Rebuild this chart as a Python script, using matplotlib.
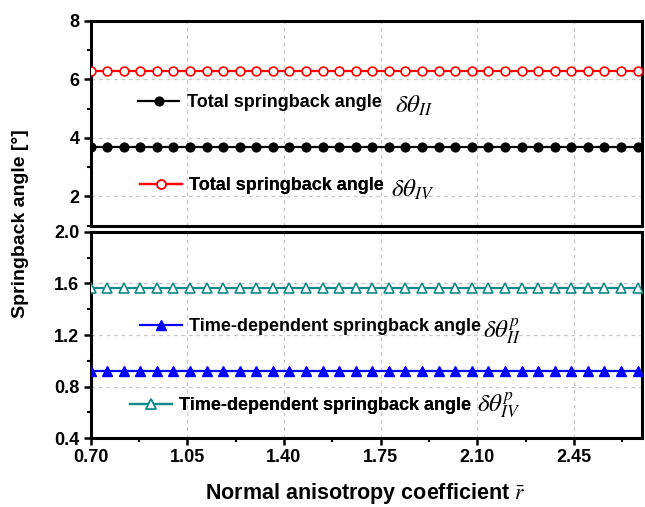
import matplotlib
matplotlib.use("Agg")
import matplotlib.pyplot as plt
from matplotlib.lines import Line2D
from matplotlib.ticker import MultipleLocator, FormatStrFormatter

plt.rcParams['font.family'] = ['Liberation Sans', 'DejaVu Sans']
plt.rcParams['mathtext.fontset'] = 'stix'

# Normal anisotropy coefficient samples
r_bar = [0.70, 0.76, 0.82, 0.88, 0.94, 1.00, 1.06, 1.12, 1.18, 1.24, 1.30, 1.36,
         1.42, 1.48, 1.54, 1.60, 1.66, 1.72, 1.78, 1.84, 1.90, 1.96, 2.02, 2.08,
         2.14, 2.20, 2.26, 2.32, 2.38, 2.44, 2.50, 2.56, 2.62, 2.68]

# Springback angles [deg]
total_II = [3.69] * len(r_bar)
total_IV = [6.28] * len(r_bar)
timedep_II = [0.92] * len(r_bar)
timedep_IV = [1.565] * len(r_bar)

x_ticks = [0.70, 1.05, 1.40, 1.75, 2.10, 2.45]
top_yticks = [2, 4, 6, 8]
bottom_yticks = [0.4, 0.8, 1.2, 1.6, 2.0]

label_total = "Total springback angle"
label_time = "Time-dependent springback angle"
sym_total_II = r"$\delta\theta_{II}$"
sym_total_IV = r"$\delta\theta_{IV}$"
sym_time_II = r"$\delta\theta^{p}_{II}$"
sym_time_IV = r"$\delta\theta^{p}_{IV}$"

BLACK = "#000000"
RED = "#ff0000"
BLUE = "#0000ff"
TEAL = "#138a8a"

W, H = 645, 507
fig = plt.figure(figsize=(W / 100, H / 100), dpi=100)

x0, x1 = 90.5, 641.7
ax_top = fig.add_axes([x0 / W, 1 - 225.7 / H, (x1 - x0) / W, (225.7 - 20.7) / H])
ax_bot = fig.add_axes([x0 / W, 1 - 438.3 / H, (x1 - x0) / W, (438.3 - 231.7) / H])

lw = 1.6
ms = 6.3

l_II, = ax_top.plot(r_bar, total_II, color=BLACK, lw=lw, marker='o', ms=ms,
                    mfc=BLACK, mec=BLACK, zorder=3)
l_IV, = ax_top.plot(r_bar, total_IV, color=RED, lw=lw, marker='o', ms=ms,
                    mfc='white', mec=RED, mew=1.2, zorder=3)
t_II, = ax_bot.plot(r_bar, timedep_II, color=BLUE, lw=lw, marker='^', ms=ms + 0.5,
                    mfc=BLUE, mec=BLUE, zorder=3)
t_IV, = ax_bot.plot(r_bar, timedep_IV, color=TEAL, lw=lw, marker='^', ms=ms + 0.5,
                    mfc='white', mec=TEAL, mew=1.2, zorder=3)

for ax in (ax_top, ax_bot):
    ax.set_xlim(0.70, 2.695)
    ax.set_xticks(x_ticks)
    ax.xaxis.set_minor_locator(MultipleLocator(0.175))
    ax.xaxis.set_major_formatter(FormatStrFormatter('%.2f'))
    ax.grid(True, which='major', color='#c8c8c8', linestyle=(0, (3, 3)), lw=0.9)
    ax.set_axisbelow(True)
    for s in ax.spines.values():
        s.set_linewidth(2.2)
    ax.tick_params(axis='both', which='major', direction='out', length=5, width=1.8,
                   labelsize=13, pad=3)
    ax.tick_params(axis='both', which='minor', direction='out', length=3, width=1.5)

ax_top.set_ylim(1, 8)
ax_top.set_yticks(top_yticks)
ax_top.yaxis.set_minor_locator(MultipleLocator(1))
ax_top.tick_params(axis='x', which='both', bottom=False, labelbottom=False)

ax_bot.set_ylim(0.4, 2.0)
ax_bot.set_yticks(bottom_yticks)
ax_bot.yaxis.set_minor_locator(MultipleLocator(0.2))
ax_bot.yaxis.set_major_formatter(FormatStrFormatter('%.1f'))

for ax in (ax_top, ax_bot):
    for lab in ax.get_xticklabels() + ax.get_yticklabels():
        lab.set_fontweight('bold')


def entry(ax, handle, text, pos):
    leg = ax.legend([handle], [text], loc='center left', bbox_to_anchor=pos,
                    frameon=False, borderpad=0, borderaxespad=0,
                    handlelength=2.3, handletextpad=0.4,
                    prop={'weight': 'bold', 'size': 13})
    ax.add_artist(leg)


def handle_like(line):
    return Line2D([], [], color=line.get_color(), lw=line.get_linewidth(),
                  marker=line.get_marker(), ms=line.get_markersize(),
                  mfc=line.get_markerfacecolor(), mec=line.get_markeredgecolor(),
                  mew=line.get_markeredgewidth())


entry(ax_top, handle_like(l_II), label_total, (0.086, 0.60))
entry(ax_top, handle_like(l_IV), label_total, (0.090, 0.194))
entry(ax_bot, handle_like(t_II), label_time, (0.090, 0.539))
entry(ax_bot, handle_like(t_IV), label_time, (0.072, 0.158))

sym_kw = dict(fontsize=18, ha='left', va='center')
ax_top.text(0.553, 0.585, sym_total_II, transform=ax_top.transAxes, **sym_kw)
ax_top.text(0.545, 0.175, sym_total_IV, transform=ax_top.transAxes, **sym_kw)
ax_bot.text(0.712, 0.515, sym_time_II, transform=ax_bot.transAxes, **sym_kw)
ax_bot.text(0.701, 0.155, sym_time_IV, transform=ax_bot.transAxes, **sym_kw)

fig.text(365 / W, 1 - 493 / H, r"Normal anisotropy coefficient $\bar{r}$",
         ha='center', va='center', fontsize=15.5, fontweight='bold')
fig.text(21 / W, 1 - 224 / H, "Springback angle [°]", rotation=90,
         ha='center', va='center', fontsize=14, fontweight='bold')

fig.savefig("out.png", dpi=100)
